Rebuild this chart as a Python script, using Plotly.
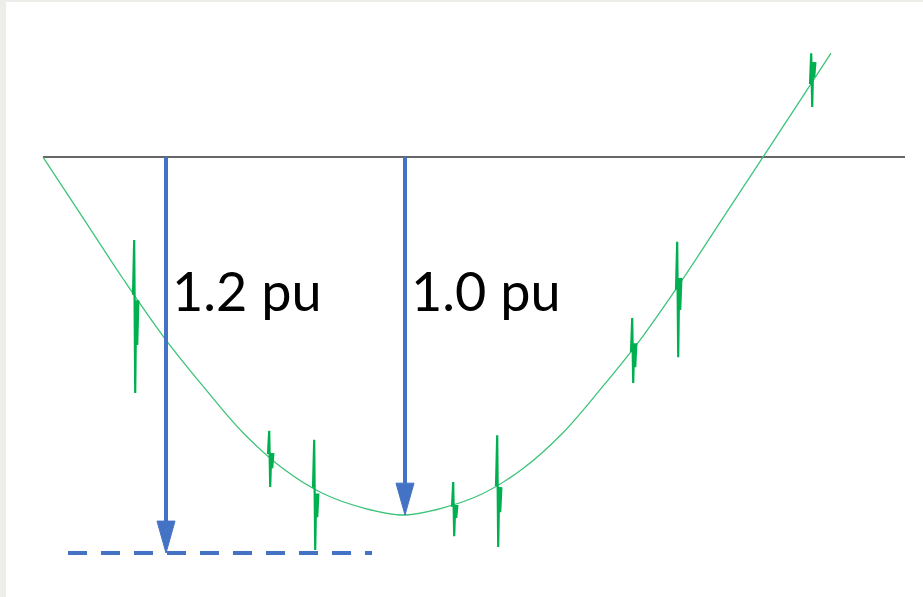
import plotly.graph_objects as go

# voltage waveform, electrical degrees vs per-unit
wave_deg = [0, 10, 20, 30, 40, 50, 60, 70, 80, 90, 100, 110, 120, 130, 140,
            150, 160, 170, 180, 190, 197]
wave_pu = [0, -0.17, -0.34, -0.50, -0.64, -0.77, -0.87, -0.94, -0.98, -1.00,
           -0.98, -0.94, -0.87, -0.77, -0.64, -0.50, -0.34, -0.17, 0, 0.17, 0.29]

# switching transients riding on the waveform
spike_deg = [22.5, 56.25, 67.5, 102.25, 113.25, 147.0, 158.25, 191.75]
spike_base = [-0.385, -0.83, -0.924, -0.977, -0.919, -0.545, -0.371, 0.204]
spike_top = [-0.232, -0.765, -0.79, -0.908, -0.777, -0.45, -0.237, 0.29]
spike_bottom = [-0.659, -0.922, -1.098, -1.059, -1.089, -0.631, -0.559, 0.14]
spike_ring_hi = [-0.40, -0.827, -0.94, -0.972, -0.922, -0.52, -0.338, 0.265]
spike_ring_lo = [-0.525, -0.869, -1.006, -1.008, -0.992, -0.587, -0.427, 0.223]

# zero axis and the two magnitude arrows
axis_deg = [0, 215.5]
arrow_deg = [30.75, 90.5]
arrow_pu = [-1.106, -1.0]
arrow_labels = ['1.2 pu', '1.0 pu']
limit_deg = [6.25, 82.25]
limit_pu = -1.106

BLUE = '#4472C4'
offs = [0, 0.3, 0.55, 0.8, 1.05, 1.35]
head_w = 2.25
head_len = 0.089

fig = go.Figure()

fig.add_trace(go.Scatter(x=axis_deg, y=[0, 0], mode='lines',
                         line=dict(color='#333333', width=1.5)))

fig.add_trace(go.Scatter(x=wave_deg, y=wave_pu, mode='lines',
                         line=dict(color='#3DC47A', width=1.3, shape='spline')))

for i, d in enumerate(spike_deg):
    ys = [spike_base[i], spike_top[i], spike_bottom[i],
          spike_ring_hi[i], spike_ring_lo[i], spike_ring_hi[i]]
    fig.add_trace(go.Scatter(x=[d + o for o in offs], y=ys, mode='lines',
                             line=dict(color='#00B050', width=2.2)))

fig.add_trace(go.Scatter(x=limit_deg, y=[limit_pu, limit_pu], mode='lines',
                         line=dict(color=BLUE, width=4, dash='19px,14px')))

for d, tip, label in zip(arrow_deg, arrow_pu, arrow_labels):
    fig.add_trace(go.Scatter(x=[d, d], y=[0, tip + head_len], mode='lines',
                             line=dict(color=BLUE, width=4)))
    fig.add_trace(go.Scatter(x=[d - head_w, d + head_w, d, d - head_w],
                             y=[tip + head_len, tip + head_len, tip, tip + head_len],
                             mode='lines', fill='toself', fillcolor=BLUE,
                             line=dict(color=BLUE, width=1)))
    fig.add_annotation(x=d + 0.9, y=-0.372, text=label, showarrow=False,
                       xanchor='left', yanchor='middle',
                       font=dict(family='Lato', size=54, color='black'))

fig.update_layout(
    width=923, height=597,
    margin=dict(l=6, r=0, t=2, b=0),
    paper_bgcolor='#EDEDE9', plot_bgcolor='white',
    showlegend=False,
    xaxis=dict(range=[-9.25, 220], visible=False),
    yaxis=dict(range=[-1.229, 0.433], visible=False),
)

fig.write_html("out.html", config={'displayModeBar': False},
               post_script="document.body.style.margin = '0';")
